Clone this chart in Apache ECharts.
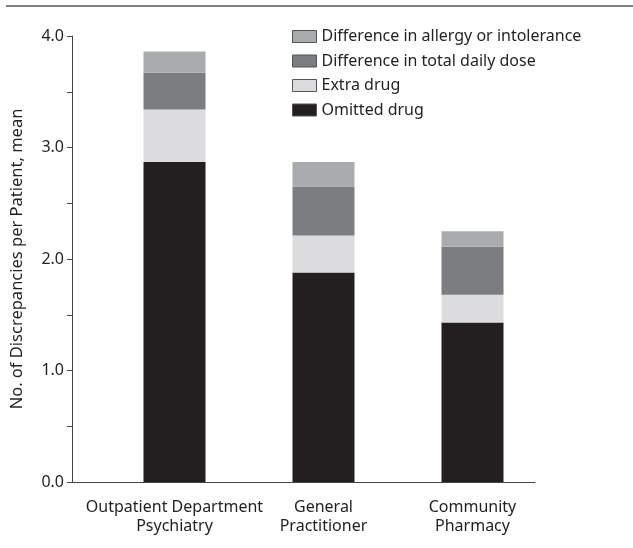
<!DOCTYPE html>
<html>
<head>
<meta charset="utf-8">
<script src="https://cdn.jsdelivr.net/npm/echarts@6/dist/echarts.min.js"></script>
<style>html,body{margin:0;padding:0;background:#fff;}#c{width:633px;height:548px;}</style>
</head>
<body>
<div id="c"></div>
<script>
var categories = ['Outpatient Department\nPsychiatry', 'General\nPractitioner', 'Community\nPharmacy'];
var omittedDrug = [2.87, 1.88, 1.43];
var extraDrug = [0.47, 0.33, 0.25];
var totalDailyDose = [0.33, 0.44, 0.43];
var allergyIntolerance = [0.19, 0.22, 0.14];
var yTicks = [0, 1, 2, 3, 4];

var FONT = '"Noto Sans", "Open Sans", sans-serif';
var TXT = '#231f20';
var chart = echarts.init(document.getElementById('c'));
function bar(name, data, color) {
  return {
    name: name, type: 'bar', stack: 'total', data: data,
    xAxisIndex: 0, yAxisIndex: 0, barWidth: 62,
    itemStyle: { color: color }, emphasis: { disabled: true }
  };
}
chart.setOption({
  animation: false,
  backgroundColor: '#fff',
  textStyle: { fontFamily: FONT },
  graphic: [{
    type: 'line', shape: { x1: 6, y1: 6, x2: 633, y2: 6 },
    style: { stroke: '#555', lineWidth: 1.5 }
  }],
  legend: {
    orient: 'vertical', left: 287, top: 23,
    icon: 'rect',
    itemWidth: 24, itemHeight: 12, itemGap: 7.5,
    textStyle: { fontSize: 16, lineHeight: 17, color: TXT, fontFamily: FONT },
    itemStyle: { borderColor: '#555', borderWidth: 1 },
    data: ['Difference in allergy or intolerance', 'Difference in total daily dose', 'Extra drug', 'Omitted drug']
  },
  grid: [
    { left: 100, right: 86, top: 36, bottom: 66 },
    { left: 72, right: 98, top: 36, bottom: 66 }
  ],
  xAxis: [
    {
      type: 'category', gridIndex: 0, data: categories,
      axisLine: { show: false }, axisTick: { show: false },
      axisLabel: { fontSize: 16, color: TXT, margin: 16, lineHeight: 19, fontFamily: FONT, interval: 0 }
    },
    {
      type: 'value', gridIndex: 1, min: 0, max: 1,
      axisLine: { show: true, lineStyle: { color: '#444', width: 1 } },
      axisTick: { show: false }, axisLabel: { show: false }, splitLine: { show: false }
    }
  ],
  yAxis: [
    { type: 'value', gridIndex: 0, min: 0, max: 4, show: false, splitLine: { show: false } },
    {
      type: 'value', gridIndex: 1, min: yTicks[0], max: yTicks[yTicks.length - 1], interval: 1,
      name: 'No. of Discrepancies per Patient, mean', nameLocation: 'middle', nameGap: 46,
      nameTextStyle: { fontSize: 16.5, color: TXT, fontFamily: FONT },
      axisLine: { show: true, lineStyle: { color: '#444', width: 1 } },
      axisTick: { show: true, length: 5, lineStyle: { color: '#444' } },
      minorTick: { show: true, splitNumber: 2, length: 5, lineStyle: { color: '#444' } },
      axisLabel: { fontSize: 16, color: TXT, margin: 8, fontFamily: FONT, formatter: function (v) { return v.toFixed(1); } },
      splitLine: { show: false }
    }
  ],
  series: [
    bar('Omitted drug', omittedDrug, '#231f20'),
    bar('Extra drug', extraDrug, '#dcdcde'),
    bar('Difference in total daily dose', totalDailyDose, '#7c7d80'),
    bar('Difference in allergy or intolerance', allergyIntolerance, '#aaabad')
  ]
});
</script>
</body>
</html>
